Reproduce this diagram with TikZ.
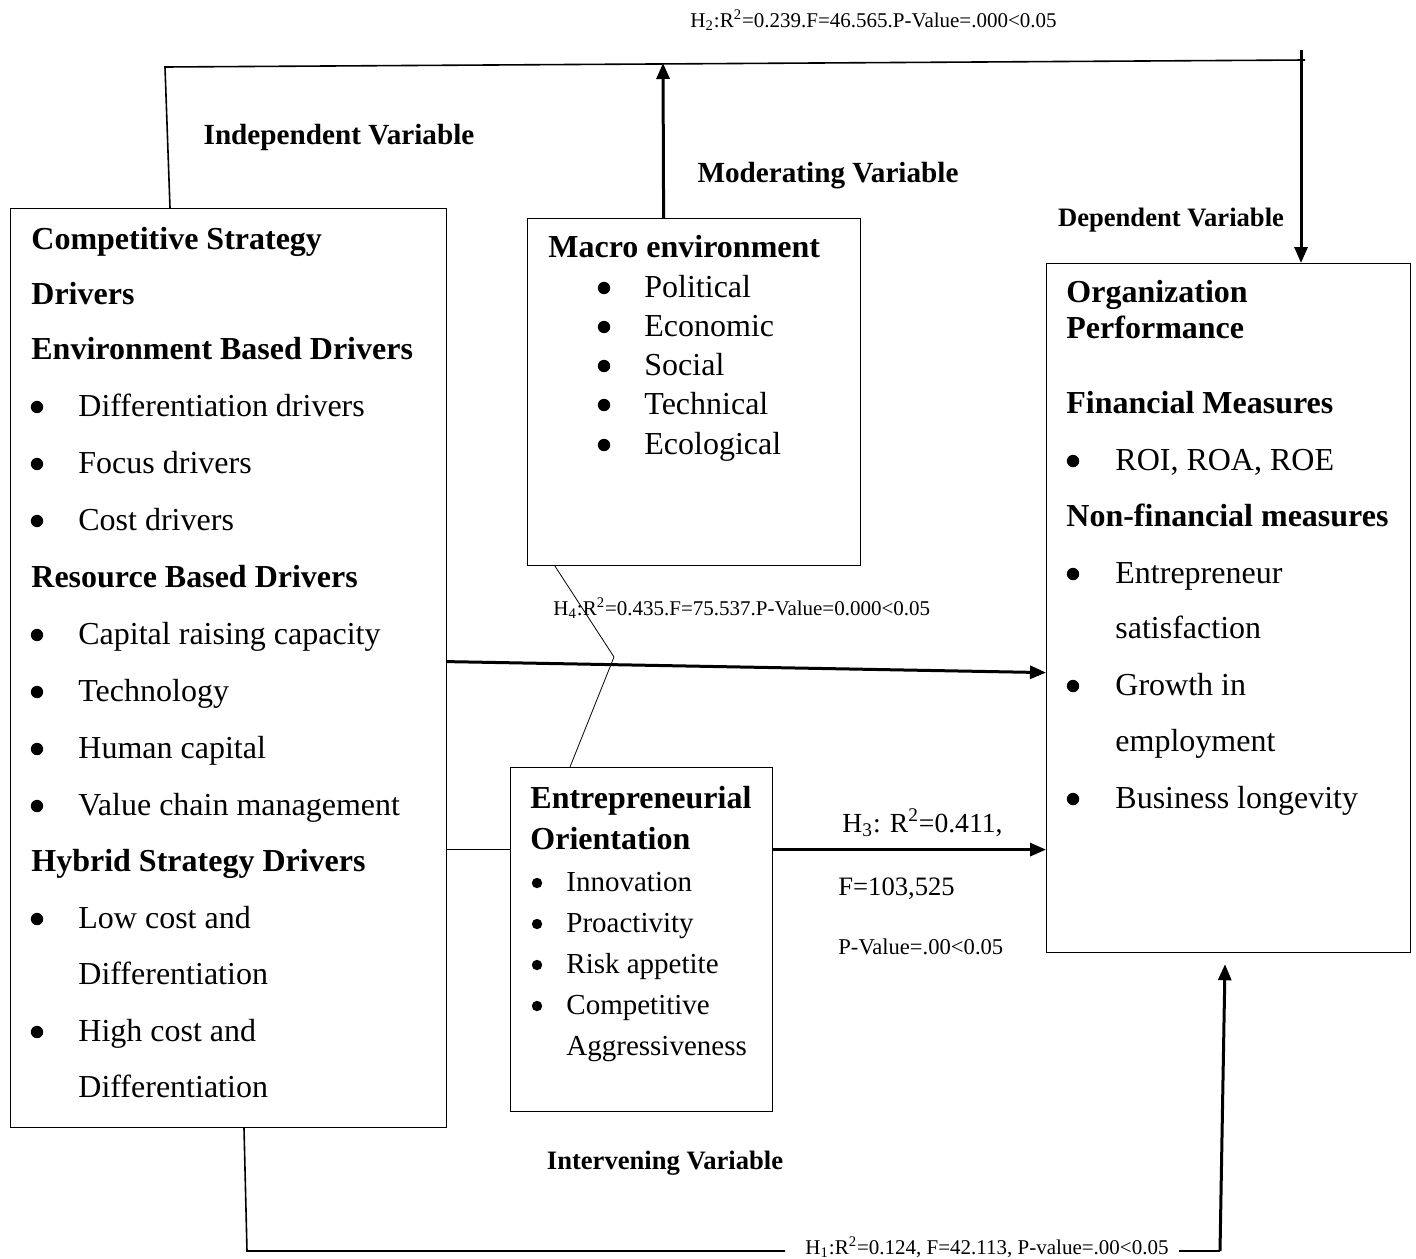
\documentclass[tikz,border=0pt]{standalone}
\usepackage{fontspec}
\setmainfont{Liberation Serif}
\usepackage{tikz}
\usetikzlibrary{calc, arrows.meta}

\begin{document}
\begin{tikzpicture}[x=0.5pt, y=-0.5pt,
    box/.style={draw, line width=0.6pt, anchor=north west, inner sep=0},
    hd/.style={anchor=base west, inner sep=0, font=\fontsize{16}{19}\selectfont\bfseries},
    itm/.style={anchor=base west, inner sep=0, font=\fontsize{16}{19}\selectfont},
    bul/.style={circle, fill, inner sep=0, minimum size=6.2pt},
    sitm/.style={anchor=base west, inner sep=0, font=\fontsize{14.5}{17}\selectfont},
    sbul/.style={circle, fill, inner sep=0, minimum size=5.2pt},
    var/.style={anchor=base, inner sep=0, font=\fontsize{14.6}{17}\selectfont\bfseries},
    svar/.style={anchor=base, inner sep=0, font=\fontsize{13.3}{16}\selectfont\bfseries},
    stat/.style={anchor=base west, inner sep=0, font=\fontsize{10.5}{12}\selectfont},
    link/.style={line width=0.8pt},
    heavy/.style={line width=1.5pt, -{Triangle[length=8pt, width=6.5pt]}}]
    \useasboundingbox (0,0) rectangle (1416,1258);

    \node[box, minimum width=218pt, minimum height=459.5pt] (csd) at (10,208) {};
    \node[box, minimum width=166.5pt, minimum height=173.5pt] (macro) at (527,218) {};
    \node[box, minimum width=131pt, minimum height=172pt] (eo) at (510,767) {};
    \node[box, minimum width=182pt, minimum height=344.5pt] (perf) at (1046,263) {};

    \node[hd] (c1) at (31,249) {Competitive Strategy};
    \node[hd] (c2) at (31,304) {Drivers};
    \node[hd] (c3) at (31,359) {Environment Based Drivers};
    \node[hd] (c4) at (31,587) {Resource Based Drivers};
    \node[hd] (c5) at (31,871) {Hybrid Strategy Drivers};
    \foreach \y/\t [count=\i] in {416/Differentiation drivers, 473/Focus drivers, 530/Cost drivers,
        644/Capital raising capacity, 701/Technology, 758/Human capital, 815/Value chain management,
        928/Low cost and, 1041/High cost and} {
        \node[bul] (cb\i) at (37,\y-9) {};
        \node[itm] (ci\i) at (78,\y) {\t};
    }
    \node[itm] (cx1) at (78,984) {Differentiation};
    \node[itm] (cx2) at (78,1097) {Differentiation};

    \node[hd] (m0) at (548,257) {Macro environment};
    \foreach \y/\t [count=\i] in {297/Political, 336/Economic, 375/Social, 414/Technical, 454/Ecological} {
        \node[bul] (mb\i) at (604,\y-9) {};
        \node[itm] (mi\i) at (644,\y) {\t};
    }

    \node[hd] (p1) at (1066,302) {Organization};
    \node[hd] (p2) at (1066,338) {Performance};
    \node[hd] (p3) at (1066,413) {Financial Measures};
    \node[hd] (p4) at (1066,526) {Non-financial measures};
    \foreach \y/\t [count=\i] in {470/{ROI, ROA, ROE}, 583/Entrepreneur, 695/Growth in, 808/Business longevity} {
        \node[bul] (pb\i) at (1073,\y-9) {};
        \node[itm] (pi\i) at (1115,\y) {\t};
    }
    \node[itm] (px1) at (1115,638) {satisfaction};
    \node[itm] (px2) at (1115,751) {employment};

    \node[hd] (e1) at (530,808) {Entrepreneurial};
    \node[hd] (e2) at (530,849) {Orientation};
    \foreach \y/\t [count=\i] in {891/Innovation, 932/Proactivity, 973/Risk appetite, 1014/Competitive} {
        \node[sbul] (eb\i) at (537,\y-8) {};
        \node[sitm] (ei\i) at (566,\y) {\t};
    }
    \node[sitm] (ex1) at (566,1055) {Aggressiveness};

    \node[var] (iv) at (339,144) {Independent Variable};
    \node[var] (mv) at (828,182) {Moderating Variable};
    \node[svar] (dv) at (1171,226) {Dependent Variable};
    \node[svar] (nv) at (665,1169) {Intervening Variable};

    \node[stat] (h2) at (690,27) {H\textsubscript{2}:R\textsuperscript{2}=0.239.F=46.565.P-Value=.000<0.05};
    \node[stat] (h4) at (553,615) {H\textsubscript{4}:R\textsuperscript{2}=0.435.F=75.537.P-Value=0.000<0.05};
    \node[stat] (h1) at (805,1254) {H\textsubscript{1}:R\textsuperscript{2}=0.124, F=42.113, P-value=.00<0.05};
    \node[stat, font=\fontsize{13.8}{16}\selectfont] (h3a) at (842,832) {H\textsubscript{3}: R\textsuperscript{2}=0.411,};
    \node[stat, font=\fontsize{13.3}{16}\selectfont] (h3b) at (838,895) {F=103,525};
    \node[stat, font=\fontsize{11.3}{13}\selectfont] (h3c) at (838,954) {P-Value=.00<0.05};

    \coordinate (tl) at (165,67);
    \coordinate (tr) at (1305,60);
    \coordinate (rt) at (1301,50);
    \coordinate (mt) at (663,63);
    \coordinate (kink) at (614,657);
    \coordinate (bl) at (247,1251);
    \coordinate (br) at (1220,1251);

    \draw[link] ([xshift=80pt]csd.north west) -- (tl) -- (tr);
    \draw[heavy] (rt) -- (rt |- perf.north);
    \draw[heavy] ([xshift=-15.25pt]macro.north) -- (mt);
    \draw[thin] ([xshift=14pt]macro.south west) -- (kink) -- ([xshift=30pt]eo.north west);
    \draw[heavy] ([yshift=3.25pt]csd.east) -- ([yshift=-32.25pt]perf.west);
    \draw[thin] ([yshift=45pt]eo.west) -- ($(csd.east |- eo.west)+(0,45pt)$);
    \draw[heavy] ([yshift=45pt]eo.east) -- ($(perf.west |- eo.east)+(0,45pt)$);
    \draw[link] ([xshift=117pt]csd.south west) -- (bl) -- ($(bl -| h1.west)+(-10pt,0)$);
    \draw[link] ($(bl -| h1.east)+(5pt,0)$) -- (br);
    \draw[heavy] (br) -- ([shift={(89.5pt,-5.5pt)}]perf.south west);
\end{tikzpicture}
\end{document}
